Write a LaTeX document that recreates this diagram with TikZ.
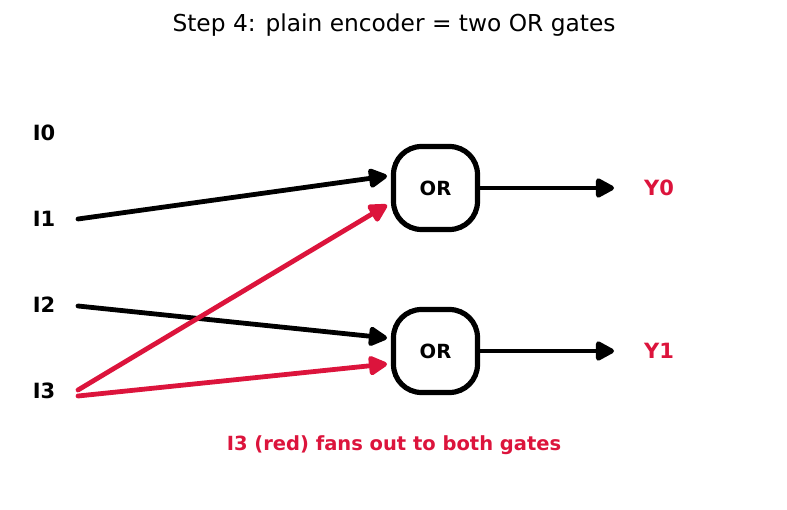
\documentclass[tikz,border=0pt]{standalone}
\usepackage{fontspec}
\setmainfont{DejaVu Sans}
\usetikzlibrary{arrows.meta}
\definecolor{redc}{RGB}{220,20,60}
\tikzset{
  gate/.style={draw, line width=5.2pt, rounded corners=28pt, minimum width=84pt, minimum height=83pt, font=\fontsize{19.5}{23}\selectfont\bfseries, inner sep=0pt},
  inlbl/.style={font=\fontsize{21}{25}\selectfont\bfseries, inner sep=0pt},
  outlbl/.style={font=\fontsize{21}{25}\selectfont\bfseries, text=redc, inner sep=0pt},
  wire/.style={line width=4.8pt, line cap=round, -{Triangle[length=21pt,width=21pt,round]}},
}
\begin{document}
\begin{tikzpicture}[x=1pt,y=-1pt]
\useasboundingbox (0,0) rectangle (787,510);
\node[font=\fontsize{23.3}{28}\selectfont] (title) at (394,25) {Step 4: plain encoder = two OR gates};
\node[inlbl] (i0) at (44,133) {I0};
\node[inlbl] (i1) at (44,219) {I1};
\node[inlbl] (i2) at (44,305) {I2};
\node[inlbl] (i3) at (44,391) {I3};
\node[gate] (g0) at (435.5,188) {OR};
\node[gate] (g1) at (435.5,351) {OR};
\node[outlbl] (y0) at (659,188) {Y0};
\node[outlbl] (y1) at (659,351) {Y1};
\node[font=\fontsize{19.5}{23}\selectfont\bfseries, text=redc] (note) at (394,445) {I3 (red) fans out to both gates};
\coordinate (s1) at (78,219);
\coordinate (s2) at (78,306);
\coordinate (s3a) at (78,390);
\coordinate (s3b) at (78,396);
\coordinate (e1) at (387,176);
\coordinate (e3a) at (387,205);
\coordinate (e2) at (387,338);
\coordinate (e3b) at (387,364);
\coordinate (o0) at (614,188);
\coordinate (o1) at (614,351);
\draw[wire] (s1) -- (e1);
\draw[wire] (s2) -- (e2);
\draw[wire, redc] (s3a) -- (e3a);
\draw[wire, redc] (s3b) -- (e3b);
\draw[wire] (g0.east) -- (o0);
\draw[wire] (g1.east) -- (o1);
\end{tikzpicture}
\end{document}
